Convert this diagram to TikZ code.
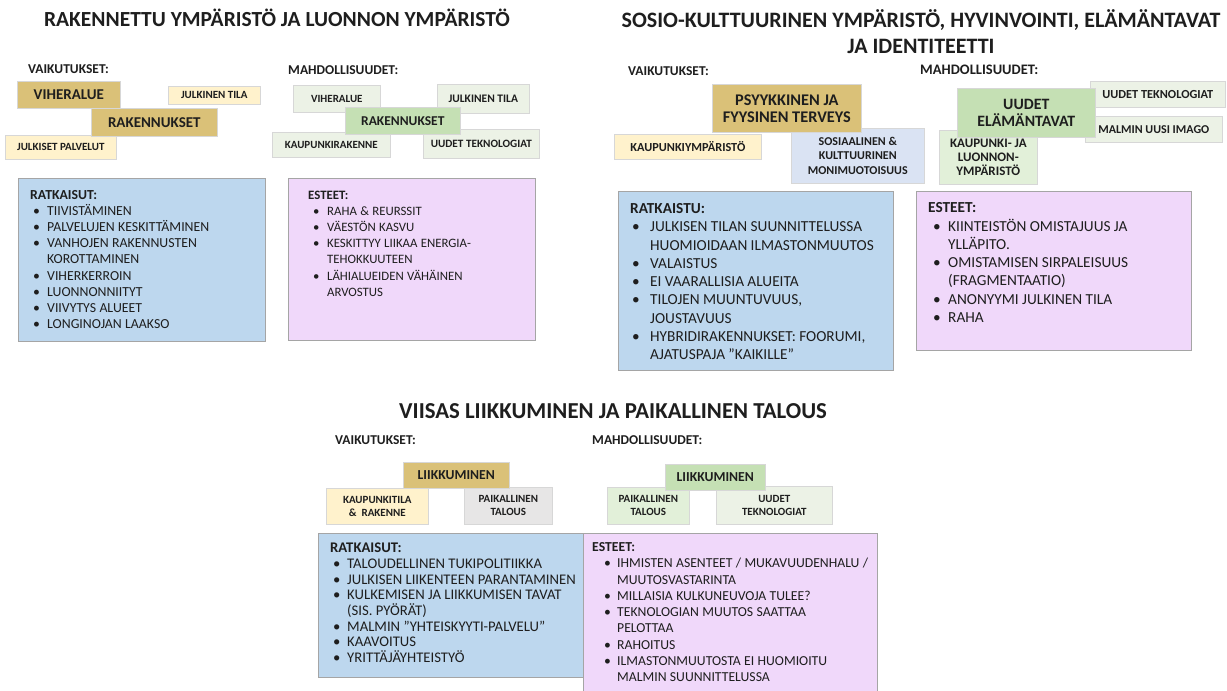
\documentclass[tikz,border=0pt]{standalone}
\usepackage{fontspec}
\setmainfont{Carlito}
\definecolor{gold}{RGB}{218,193,120}
\definecolor{lyellow}{RGB}{255,242,204}
\definecolor{lblue}{RGB}{189,215,238}
\definecolor{paleblue}{RGB}{218,227,243}
\definecolor{lpurple}{RGB}{240,216,250}
\definecolor{mgreen}{RGB}{197,224,180}
\definecolor{lgreen}{RGB}{226,240,217}
\definecolor{vlgreen}{RGB}{236,242,230}
\definecolor{lgray}{RGB}{231,230,230}
\definecolor{edge}{RGB}{215,215,215}
\definecolor{bigedge}{RGB}{165,165,165}
\definecolor{ink}{RGB}{30,30,30}
\newcommand\fsz[2]{\fontsize{#1}{#2}\selectfont}
\newcommand\bitem[3]{\par\noindent\hangindent=#2pt\hangafter=1\makebox[#2pt][l]{\hspace{#1pt}\textbullet}#3}
\newcommand\bxn[8]{\node[bx, fill=#6, minimum width={#4-#2}, minimum height={#5-#3}, font=#7] (#1) at (#2,#3) {#8};}
\tikzset{
  bx/.style={draw=edge, line width=0.6pt, inner sep=0pt, anchor=north west, align=center, text=ink},
  lbl/.style={font=\bfseries\fsz{13.5}{16}, inner sep=0pt, anchor=west, text=ink},
  ttl/.style={font=\bfseries\fsz{22}{26}, inner sep=0pt, align=center, text=ink},
  lst/.style={inner sep=0pt, anchor=base west, text=ink},
}
\begin{document}
\begin{tikzpicture}[x=1pt,y=-1pt]
\useasboundingbox[fill=white] (0,0) rectangle (1227,691);

% ---------- titles ----------
\node[ttl, font=\bfseries\fsz{21.5}{26}] (T1) at (277,18) {RAKENNETTU YMPÄRISTÖ JA LUONNON YMPÄRISTÖ};
\node[ttl] (T2) at (921,32) {SOSIO-KULTTUURINEN YMPÄRISTÖ, HYVINVOINTI, ELÄMÄNTAVAT\\JA IDENTITEETTI};
\node[ttl, font=\bfseries\fsz{22.8}{26}] (T3) at (613,411) {VIISAS LIIKKUMINEN JA PAIKALLINEN TALOUS};

% ---------- section labels ----------
\node[lbl] (L1) at (28,69) {VAIKUTUKSET:};
\node[lbl] (L2) at (288,70) {MAHDOLLISUUDET:};
\node[lbl] (L3) at (628,71) {VAIKUTUKSET:};
\node[lbl, font=\bfseries\fsz{14.5}{16}] (L4) at (920,70) {MAHDOLLISUUDET:};
\node[lbl] (L5) at (335,440) {VAIKUTUKSET:};
\node[lbl] (L6) at (592,440) {MAHDOLLISUUDET:};

% ---------- top-left impacts ----------
\bxn{v1}{17}{81}{120}{108}{gold}{\bfseries\fsz{15}{18}}{VIHERALUE}
\bxn{v2}{168}{86}{260}{104}{lyellow}{\bfseries\fsz{11}{13}}{JULKINEN TILA}
\bxn{v3}{5}{135}{116}{159}{lyellow}{\bfseries\fsz{11}{13}}{JULKISET PALVELUT}
\bxn{v4}{91}{108}{217}{136}{gold}{\bfseries\fsz{15}{18}}{RAKENNUKSET}

% ---------- top-left opportunities ----------
\bxn{m1}{293}{85}{380}{112}{vlgreen}{\bfseries\fsz{11}{13}}{VIHERALUE}
\bxn{m2}{437}{84}{529}{113}{vlgreen}{\bfseries\fsz{11.5}{13}}{JULKINEN TILA}
\bxn{m3}{272}{132}{390}{157}{vlgreen}{\bfseries\fsz{11}{13}}{KAUPUNKIRAKENNE}
\bxn{m4}{423}{129}{539}{158}{vlgreen}{\bfseries\fsz{11.2}{13}}{UUDET TEKNOLOGIAT}
\bxn{m5}{345}{107}{460}{134}{mgreen}{\bfseries\fsz{13.5}{16}}{RAKENNUKSET}

% ---------- top-right impacts ----------
\bxn{s2}{614}{134}{761}{159}{lyellow}{\bfseries\fsz{12.3}{14}}{KAUPUNKIYMPÄRISTÖ}
\bxn{s3}{791}{128}{924}{183}{paleblue}{\bfseries\fsz{12}{14.5}}{SOSIAALINEN \&\\KULTTUURINEN\\MONIMUOTOISUUS}
\bxn{s1}{712}{84}{861}{132}{gold}{\bfseries\fsz{16.3}{17}}{PSYYKKINEN JA\\FYYSINEN TERVEYS}

% ---------- top-right opportunities ----------
\bxn{t2}{1090}{81}{1225}{107}{vlgreen}{\bfseries\fsz{12.3}{14}}{UUDET TEKNOLOGIAT}
\bxn{t3}{1085}{116}{1222}{142}{vlgreen}{\bfseries\fsz{12}{14}}{MALMIN UUSI IMAGO}
\bxn{t4}{939}{130}{1037}{184}{lgreen}{\bfseries\fsz{13}{14}}{KAUPUNKI- JA\\LUONNON-\\YMPÄRISTÖ}
\bxn{t1}{957}{88}{1095}{137}{mgreen}{\bfseries\fsz{15.8}{17}}{UUDET\\ELÄMÄNTAVAT}

% ---------- bottom impacts ----------
\bxn{b2}{326}{488}{428}{524}{lyellow}{\bfseries\fsz{11}{13}}{KAUPUNKITILA\\\&\ \ RAKENNE}
\bxn{b3}{464}{487}{552}{524}{lgray}{\bfseries\fsz{11}{13}}{PAIKALLINEN\\TALOUS}
\bxn{b1}{403}{462}{509}{488}{gold}{\bfseries\fsz{13.7}{16}}{LIIKKUMINEN}

% ---------- bottom opportunities ----------
\bxn{c2}{607}{487}{689}{524}{lgreen}{\bfseries\fsz{11}{13}}{PAIKALLINEN\\TALOUS}
\bxn{c3}{716}{486}{832}{524}{vlgreen}{\bfseries\fsz{11}{13}}{UUDET\\TEKNOLOGIAT}
\bxn{c1}{665}{464}{765}{490}{mgreen}{\bfseries\fsz{13.7}{16}}{LIIKKUMINEN}

% ---------- big list boxes ----------
\bxn{r1}{18}{178}{265}{341}{lblue}{}{}
\bxn{e1}{288}{178}{535}{340}{lpurple}{}{}
\bxn{r2}{618}{191}{893}{370}{lblue}{}{}
\bxn{e2}{916}{191}{1191}{350}{lpurple}{}{}
\bxn{r3}{318}{533}{583}{677}{lblue}{}{}
\bxn{e3}{583}{533}{877}{691}{lpurple}{}{}
\foreach \n in {r1,e1,r2,e2,r3,e3}{\draw[bigedge, line width=0.6pt] (\n.north west) rectangle (\n.south east);}

% ---------- list texts ----------
\node[lst, text width=230pt] (r1t) at (30,199.5) {\fsz{13.8}{16.1}\raggedright\hyphenpenalty=10000\noindent\textbf{RATKAISUT:}%
\bitem{3}{17}{TIIVISTÄMINEN}%
\bitem{3}{17}{PALVELUJEN KESKITTÄMINEN}%
\bitem{3}{17}{VANHOJEN RAKENNUSTEN\newline KOROTTAMINEN}%
\bitem{3}{17}{VIHERKERROIN}%
\bitem{3}{17}{LUONNONNIITYT}%
\bitem{3}{17}{VIIVYTYS ALUEET}%
\bitem{3}{17}{LONGINOJAN LAAKSO}\par};

\node[lst, text width=220pt] (e1t) at (308,199.5) {\fsz{12.8}{16.1}\raggedright\hyphenpenalty=10000\noindent\textbf{ESTEET:}%
\bitem{5}{19}{RAHA \& REURSSIT}%
\bitem{5}{19}{VÄESTÖN KASVU}%
\bitem{5}{19}{KESKITTYY LIIKAA ENERGIA-\newline TEHOKKUUTEEN}%
\bitem{5}{19}{LÄHIALUEIDEN VÄHÄINEN\newline ARVOSTUS}\par};

\node[lst, text width=265pt] (r2t) at (630,213.7) {\fsz{15.3}{18.25}\raggedright\hyphenpenalty=10000\noindent\textbf{RATKAISTU:}%
\bitem{2}{20}{JULKISEN TILAN SUUNNITTELUSSA\newline HUOMIOIDAAN ILMASTONMUUTOS}%
\bitem{2}{20}{VALAISTUS}%
\bitem{2}{20}{EI VAARALLISIA ALUEITA}%
\bitem{2}{20}{TILOJEN MUUNTUVUUS,\newline JOUSTAVUUS}%
\bitem{2}{20}{HYBRIDIRAKENNUKSET: FOORUMI,\newline AJATUSPAJA ”KAIKILLE”}\par};

\node[lst, text width=262pt] (e2t) at (928,212.7) {\fsz{15.3}{18.3}\raggedright\hyphenpenalty=10000\noindent\textbf{ESTEET:}%
\bitem{5}{20}{KIINTEISTÖN OMISTAJUUS JA\newline YLLÄPITO.}%
\bitem{5}{20}{OMISTAMISEN SIRPALEISUUS\newline (FRAGMENTAATIO)}%
\bitem{5}{20}{ANONYYMI JULKINEN TILA}%
\bitem{5}{20}{RAHA}\par};

\node[lst, text width=265pt] (r3t) at (330,552.6) {\fsz{14.7}{15.7}\raggedright\hyphenpenalty=10000\noindent\textbf{RATKAISUT:}%
\bitem{3}{17}{TALOUDELLINEN TUKIPOLITIIKKA}%
\bitem{3}{17}{JULKISEN LIIKENTEEN PARANTAMINEN}%
\bitem{3}{17}{KULKEMISEN JA LIIKKUMISEN TAVAT\newline (SIS. PYÖRÄT)}%
\bitem{3}{17}{MALMIN ”YHTEISKYYTI-PALVELU”}%
\bitem{3}{17}{KAAVOITUS}%
\bitem{3}{17}{YRITTÄJÄYHTEISTYÖ}\par};

\node[lst, text width=310pt] (e3t) at (592,551.6) {\fsz{13.7}{16.25}\raggedright\hyphenpenalty=10000\noindent\textbf{ESTEET:}%
\bitem{12}{25}{IHMISTEN ASENTEET / MUKAVUUDENHALU /\newline MUUTOSVASTARINTA}%
\bitem{12}{25}{MILLAISIA KULKUNEUVOJA TULEE?}%
\bitem{12}{25}{TEKNOLOGIAN MUUTOS SAATTAA\newline PELOTTAA}%
\bitem{12}{25}{RAHOITUS}%
\bitem{12}{25}{ILMASTONMUUTOSTA EI HUOMIOITU\newline MALMIN SUUNNITTELUSSA}\par};
\end{tikzpicture}
\end{document}
